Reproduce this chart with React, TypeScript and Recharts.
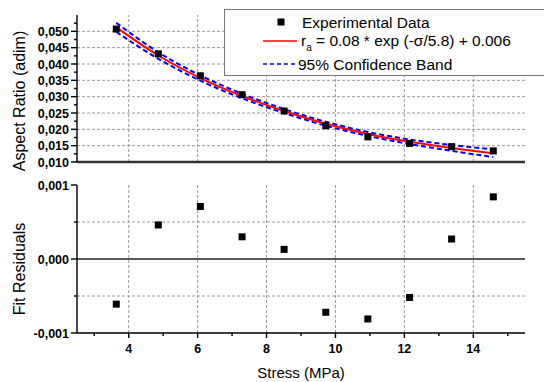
import { ComposedChart, Line, Scatter, XAxis, YAxis, ReferenceLine } from 'recharts';

const stress = [3.64, 4.86, 6.08, 7.29, 8.51, 9.72, 10.94, 12.15, 13.37, 14.58];
const aspectRatio = [0.0507, 0.0431, 0.0364, 0.0306, 0.0256, 0.0211, 0.0177, 0.0157, 0.0147, 0.0134];
const fitCurve = [0.0512, 0.0426, 0.0357, 0.0302, 0.0256, 0.0217, 0.0186, 0.0162, 0.0143, 0.0127];
const bandUpper = [0.0526, 0.0436, 0.0365, 0.0309, 0.0262, 0.0223, 0.0192, 0.0169, 0.0152, 0.0139];
const bandLower = [0.0498, 0.0416, 0.0349, 0.0295, 0.025, 0.0211, 0.018, 0.0155, 0.0134, 0.0115];
const residuals = [-0.00061, 0.00046, 0.00071, 0.0003, 0.00013, -0.00072, -0.00081, -0.00052, 0.00027, 0.00084];

const xMajor = [4, 6, 8, 10, 12, 14];
const xMinor = [3, 5, 7, 9, 11, 13, 15];
const topMajor = [0.01, 0.015, 0.02, 0.025, 0.03, 0.035, 0.04, 0.045, 0.05];
const topMinor = [0.0125, 0.0175, 0.0225, 0.0275, 0.0325, 0.0375, 0.0425, 0.0475, 0.0525];
const resMajor = [-0.001, 0, 0.001];
const resMinor = [-0.0005, 0.0005];

const topRows = stress.map((s, i) => ({
  stress: s,
  ratio: aspectRatio[i],
  fit: fitCurve[i],
  upper: bandUpper[i],
  lower: bandLower[i],
}));
const resRows = stress.map((s, i) => ({ stress: s, res: residuals[i] }));

const font = '"Liberation Sans", Arial, sans-serif';
const gridColor = '#9a9a9a';

const isMajor = (list: number[], v: number) => list.some((m) => Math.abs(m - v) < 1e-9);
const fmt = (v: number) => v.toFixed(3).replace('.', ',');

const YTick = (props: any) => {
  const { x, y, payload, majors } = props;
  const major = isMajor(majors, payload.value);
  return (
    <g>
      <line x1={x - (major ? 6 : 3)} x2={x} y1={y} y2={y} stroke="#000" strokeWidth={1.4} />
      {major && (
        <text x={x - 8} y={y} dy="0.36em" textAnchor="end" fontSize={12.5} fontWeight="bold" fontFamily={font} fill="#000">
          {fmt(payload.value)}
        </text>
      )}
    </g>
  );
};

const XTick = (props: any) => {
  const { x, y, payload } = props;
  const major = isMajor(xMajor, payload.value);
  return (
    <g>
      <line x1={x} x2={x} y1={y} y2={y + (major ? 5 : 3)} stroke="#000" strokeWidth={1.4} />
      {major && (
        <text x={x} y={y + 15} dy="0.36em" textAnchor="middle" fontSize={12.5} fontWeight="bold" fontFamily={font} fill="#000">
          {payload.value}
        </text>
      )}
    </g>
  );
};

const Square = (props: any) => {
  const { cx, cy } = props;
  return <rect x={cx - 3.5} y={cy - 3.5} width={7} height={7} fill="#000" />;
};

export default function App() {
  return (
    <div style={{ position: 'absolute', left: 0, top: 0, width: 544, height: 382, overflow: 'hidden', background: '#fff', fontFamily: font }}>
      <div style={{ position: 'absolute', left: 0, top: 0 }}>
        <ComposedChart width={544} height={170} data={topRows} margin={{ top: 15, right: 19, bottom: 8, left: 0 }}>
          <XAxis type="number" dataKey="stress" domain={[2.5, 15.5]} hide />
          <YAxis
            type="number"
            domain={[0.01, 0.055]}
            ticks={[...topMajor, ...topMinor]}
            width={77}
            tickSize={0}
            tickMargin={0}
            tickLine={false}
            axisLine={{ stroke: '#000', strokeWidth: 1.4 }}
            tick={<YTick majors={topMajor} />}
            interval={0}
          />
          {xMajor.map((v) => (
            <ReferenceLine key={'vx' + v} x={v} stroke={gridColor} strokeDasharray="3 2" />
          ))}
          {topMajor.slice(1).map((v) => (
            <ReferenceLine key={'hy' + v} y={v} stroke={gridColor} strokeDasharray="3 2" />
          ))}
          <ReferenceLine y={0.01} stroke="#333" strokeWidth={2.5} />
          <Line dataKey="upper" type="monotone" stroke="#0000ff" strokeWidth={2} strokeDasharray="5 3" dot={false} isAnimationActive={false} />
          <Line dataKey="lower" type="monotone" stroke="#0000ff" strokeWidth={2} strokeDasharray="5 3" dot={false} isAnimationActive={false} />
          <Line dataKey="fit" type="monotone" stroke="#ff0000" strokeWidth={2} dot={false} isAnimationActive={false} />
          <Scatter dataKey="ratio" shape={<Square />} isAnimationActive={false} />
        </ComposedChart>
      </div>

      <div style={{ position: 'absolute', left: 0, top: 170 }}>
        <ComposedChart width={544} height={212} data={resRows} margin={{ top: 15, right: 19, bottom: 0, left: 0 }}>
          <XAxis
            type="number"
            dataKey="stress"
            domain={[2.5, 15.5]}
            ticks={[...xMajor, ...xMinor]}
            height={49}
            tickSize={0}
            tickMargin={0}
            tickLine={false}
            axisLine={{ stroke: '#000', strokeWidth: 1.4 }}
            tick={<XTick />}
            interval={0}
          />
          <YAxis
            type="number"
            domain={[-0.001, 0.001]}
            ticks={[...resMajor, ...resMinor]}
            width={77}
            tickSize={0}
            tickMargin={0}
            tickLine={false}
            axisLine={{ stroke: '#000', strokeWidth: 1.4 }}
            tick={<YTick majors={resMajor} />}
            interval={0}
          />
          {xMajor.map((v) => (
            <ReferenceLine key={'rvx' + v} x={v} stroke={gridColor} strokeDasharray="3 2" />
          ))}
          {resMinor.map((v) => (
            <ReferenceLine key={'rhy' + v} y={v} stroke={gridColor} strokeDasharray="3 2" />
          ))}
          <ReferenceLine y={0} stroke="#222" strokeWidth={1.5} />
          <Scatter dataKey="res" shape={<Square />} isAnimationActive={false} />
        </ComposedChart>
      </div>

      <div style={{ position: 'absolute', left: 20, top: 101, transform: 'translate(-50%, -50%) rotate(-90deg)', fontSize: 16, whiteSpace: 'nowrap', color: '#000' }}>
        Aspect Ratio (adim)
      </div>
      <div style={{ position: 'absolute', left: 20, top: 269, transform: 'translate(-50%, -50%) rotate(-90deg)', fontSize: 16, whiteSpace: 'nowrap', color: '#000' }}>
        Fit Residuals
      </div>
      <div style={{ position: 'absolute', left: 301, top: 372, transform: 'translate(-50%, -50%)', fontSize: 15, whiteSpace: 'nowrap', color: '#000' }}>
        Stress (MPa)
      </div>

      <svg style={{ position: 'absolute', left: 0, top: 0 }} width={544} height={382} pointerEvents="none">
        <rect x={224.5} y={9.5} width={330} height={66} fill="#fff" stroke="#777" strokeWidth={1} />
        <rect x={277.5} y={18.5} width={7} height={7} fill="#000" />
        <text x={302} y={22} dy="0.36em" fontSize={15.5} fontFamily={font} fill="#000">Experimental Data</text>
        <line x1={263} x2={297} y1={41} y2={41} stroke="#ff0000" strokeWidth={1.5} />
        <text x={301} y={40} dy="0.36em" fontSize={15.5} fontFamily={font} fill="#000">
          r<tspan fontSize={10} dy={5}>a</tspan>
          <tspan dy={-5}> = 0.08 * exp (-σ/5.8) + 0.006</tspan>
        </text>
        <line x1={263} x2={297} y1={64} y2={64} stroke="#0000ff" strokeWidth={1.5} strokeDasharray="4 3" />
        <text x={298} y={64} dy="0.36em" fontSize={15.5} fontFamily={font} fill="#000">95% Confidence Band</text>
      </svg>
    </div>
  );
}
